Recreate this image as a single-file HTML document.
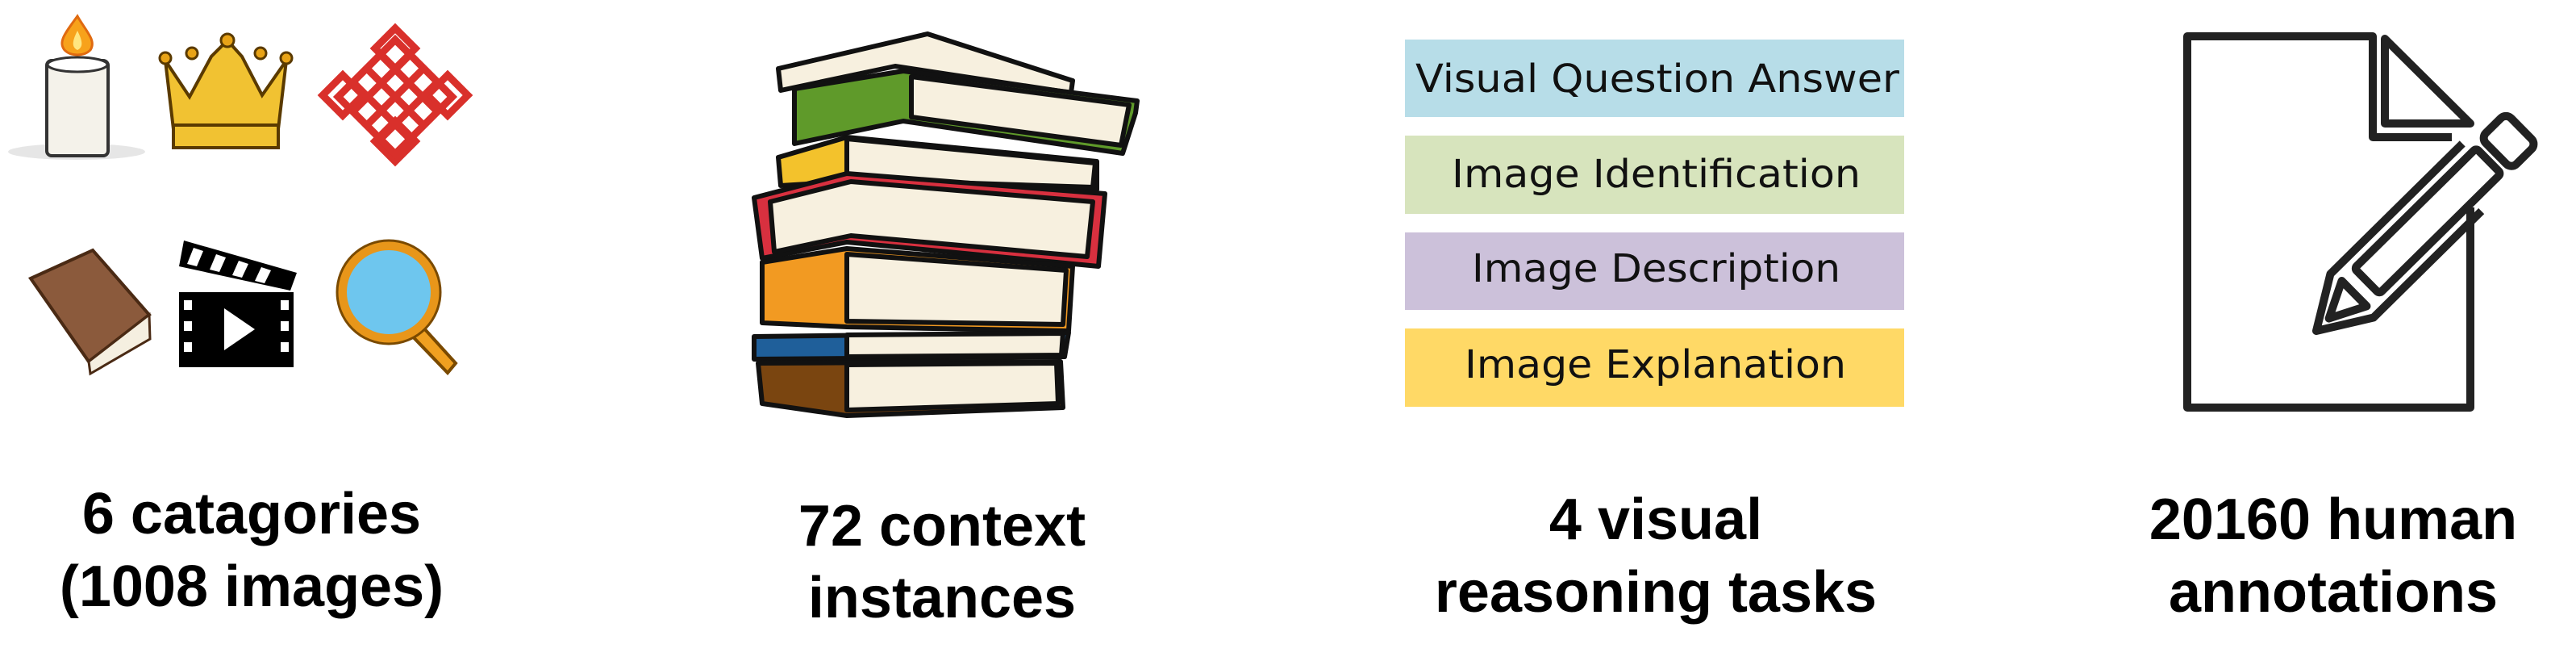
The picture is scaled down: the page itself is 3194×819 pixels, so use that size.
<!DOCTYPE html>
<html><head><meta charset="utf-8"><style>
html,body{margin:0;padding:0;background:#fff;}
svg{display:block}
.lbl{font-family:"Liberation Sans",sans-serif;font-weight:bold;font-size:72px;fill:#000;text-anchor:middle}
.task{font-family:"DejaVu Sans","Liberation Sans",sans-serif;font-size:48px;fill:#111}
</style></head><body>
<svg width="3194" height="819" viewBox="0 0 3194 819" xmlns="http://www.w3.org/2000/svg">
<!-- candle -->
<ellipse cx="95" cy="188" rx="85" ry="10" fill="#e6e6e6"/>
<rect x="58" y="75" width="76" height="118" rx="6" fill="#f4f2ea" stroke="#333" stroke-width="4"/>
<ellipse cx="96" cy="80" rx="37" ry="9" fill="#fff" stroke="#333" stroke-width="3"/>
<path d="M96 20 C80 42 72 52 80 62 C88 70 104 70 112 62 C120 50 106 38 96 20Z" fill="#f7a21b" stroke="#e06a10" stroke-width="3"/>
<path d="M96 38 C90 50 88 58 96 62 C104 58 102 50 96 38Z" fill="#ffe680"/>
<!-- crown -->
<path d="M205 75 L235 120 L262 70 L282 50 L300 70 L325 118 L355 75 L345 160 L215 160Z" fill="#f1c232" stroke="#5a3a00" stroke-width="4"/>
<rect x="215" y="155" width="130" height="28" fill="#f1c232" stroke="#5a3a00" stroke-width="4"/>
<circle cx="205" cy="72" r="7" fill="#e8a317" stroke="#5a3a00" stroke-width="3"/>
<circle cx="238" cy="66" r="7" fill="#e8a317" stroke="#5a3a00" stroke-width="3"/>
<circle cx="282" cy="50" r="8" fill="#e8a317" stroke="#5a3a00" stroke-width="3"/>
<circle cx="323" cy="66" r="7" fill="#e8a317" stroke="#5a3a00" stroke-width="3"/>
<circle cx="355" cy="72" r="7" fill="#e8a317" stroke="#5a3a00" stroke-width="3"/>
<!-- knot -->
<g fill="none" stroke="#d9302b" stroke-width="9">
<path d="M490 35 L515 60 L490 85 L465 60Z"/>
<path d="M490 200 L515 175 L490 150 L465 175Z"/>
<path d="M400 118 L425 93 L450 118 L425 143Z"/>
<path d="M580 118 L555 93 L530 118 L555 143Z"/>
<rect x="440" y="70" width="100" height="100" transform="rotate(45 490 120)"/>
<path d="M455 85 L525 155 M525 85 L455 155 M472 68 L542 138 M508 68 L438 138 M438 102 L508 172 M542 102 L472 172"/>
</g>
<!-- book -->
<path d="M38 345 L115 310 L185 390 L110 448 Z" fill="#8b5a3c" stroke="#4a2a14" stroke-width="4"/>
<path d="M110 448 L185 390 L186 420 L112 463Z" fill="#f5efe0" stroke="#4a2a14" stroke-width="3"/>
<!-- clapper -->
<rect x="222" y="362" width="142" height="93" fill="#000"/>
<path d="M228 298 L368 338 L360 360 L222 330Z" fill="#000"/>
<g fill="#fff"><path d="M240 307 L252 311 L244 330 L232 327Z"/><path d="M268 315 L280 319 L272 337 L260 334Z"/><path d="M296 323 L308 327 L300 344 L288 341Z"/><path d="M324 331 L336 335 L328 351 L316 348Z"/>
<rect x="228" y="372" width="10" height="12"/><rect x="228" y="398" width="10" height="12"/><rect x="228" y="424" width="10" height="12"/>
<rect x="348" y="372" width="10" height="12"/><rect x="348" y="398" width="10" height="12"/><rect x="348" y="424" width="10" height="12"/>
<path d="M278 382 L316 408 L278 434Z"/></g>
<!-- magnifier -->
<path d="M515 395 L565 450 L555 462 L503 408Z" fill="#f0a020" stroke="#7a4a00" stroke-width="4"/>
<circle cx="482" cy="362" r="58" fill="#6ec6ee" stroke="#e8961a" stroke-width="12"/>
<circle cx="482" cy="362" r="64" fill="none" stroke="#7a4a00" stroke-width="3"/>
<!-- books stack -->
<g stroke="#111" stroke-width="6" stroke-linejoin="round">
<path d="M965 85 L1150 42 L1330 100 L1328 115 L1110 82 L968 112Z" fill="#f7f0df"/>
<path d="M985 110 L1120 88 L1410 125 L1408 140 L1392 190 L1120 150 L985 178Z" fill="#5f9a2a"/>
<path d="M1130 95 L1400 130 L1390 180 L1130 145Z" fill="#f7f0df"/>
<path d="M965 195 L1050 170 L1360 200 L1360 235 L1050 225 L968 230Z" fill="#f3c22c"/>
<path d="M1050 172 L1358 202 L1355 232 L1050 222Z" fill="#f7f0df"/>
<path d="M935 245 L1050 215 L1370 240 L1362 330 L1050 300 L945 320Z" fill="#d8303f"/>
<path d="M955 250 L1055 225 L1355 250 L1348 318 L1055 292 L960 312Z" fill="#f7f0df"/>
<path d="M945 325 L1050 308 L1330 330 L1325 410 L1050 405 L945 400Z" fill="#f29a22"/>
<path d="M1050 315 L1322 335 L1318 402 L1050 398Z" fill="#f7f0df"/>
<path d="M935 417 L1325 412 L1320 442 L935 445Z" fill="#1f5f9a"/>
<path d="M1050 415 L1318 413 L1316 440 L1050 442Z" fill="#f7f0df"/>
<path d="M940 450 L1315 448 L1318 505 L1050 515 L945 500Z" fill="#7a4510"/>
<path d="M1050 452 L1310 450 L1312 500 L1050 508Z" fill="#f7f0df"/>
</g>
<!-- task boxes -->
<rect x="1742" y="49" width="619" height="96" fill="#b7dde8"/>
<rect x="1742" y="168" width="619" height="97" fill="#d7e4bd"/>
<rect x="1742" y="288" width="619" height="96" fill="#ccc1da"/>
<rect x="1742" y="407" width="619" height="97" fill="#ffd966"/>
<text class="task" x="1755" y="114" textLength="600" lengthAdjust="spacingAndGlyphs">Visual Question Answer</text>
<text class="task" x="1800" y="232" textLength="507" lengthAdjust="spacingAndGlyphs">Image Identification</text>
<text class="task" x="1825" y="349" textLength="457" lengthAdjust="spacingAndGlyphs">Image Description</text>
<text class="task" x="1816" y="468" textLength="473" lengthAdjust="spacingAndGlyphs">Image Explanation</text>
<!-- document -->
<g fill="none" stroke="#222" stroke-width="10" stroke-linejoin="round">
<path d="M3063 257 L3063 505 L2712 505 L2712 45 L2942 45 L2942 170 L3040 170"/>
<path d="M2957 48 L2957 153 L3063 153Z"/>
<g transform="translate(2872 410) rotate(-44.6)">
<path d="M292 -38 L62 -38 L0 0 L62 38 L250 38"/>
<rect x="88" y="-22" width="212" height="44" rx="4"/>
<path d="M22 0 L66 -22 L66 22Z"/>
<rect x="313" y="-27" width="44" height="54" rx="9"/>
</g>
</g>
<!-- labels -->
<text class="lbl" x="312" y="661">6 catagories</text>
<text class="lbl" x="312" y="751">(1008 images)</text>
<text class="lbl" x="1168" y="676">72 context</text>
<text class="lbl" x="1168" y="765">instances</text>
<text class="lbl" x="2053" y="668">4 visual</text>
<text class="lbl" x="2053" y="758">reasoning tasks</text>
<text class="lbl" x="2893" y="668">20160 human</text>
<text class="lbl" x="2893" y="758">annotations</text>
</svg>
</body></html>
